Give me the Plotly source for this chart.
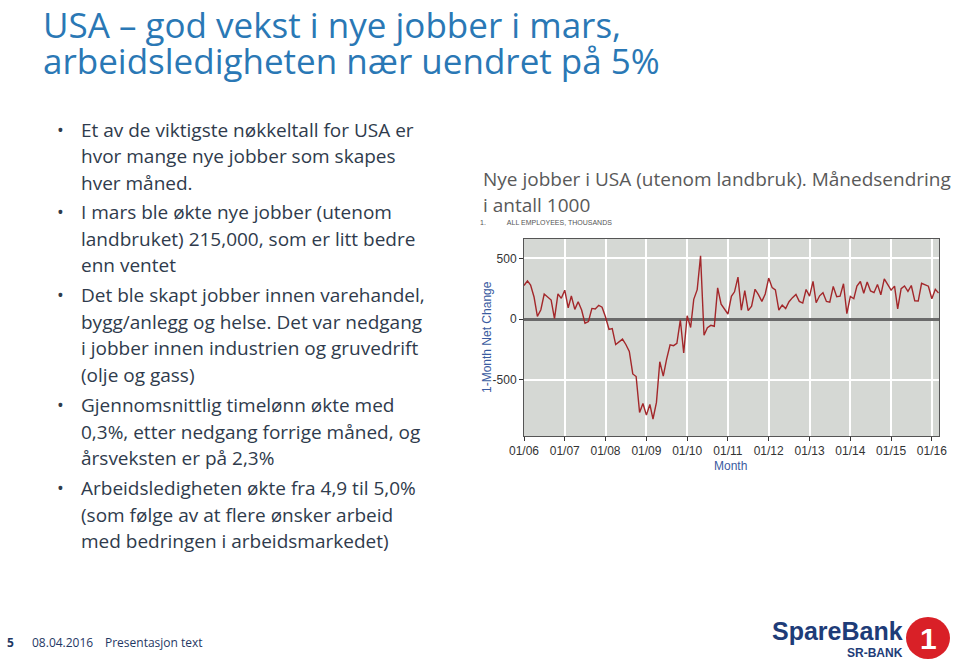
import pandas as pd
import plotly.graph_objects as go

# monthly change in nonfarm payrolls, thousands (Jan 2006 - Mar 2016)
months = pd.date_range("2006-01-01", "2016-03-01", freq="MS")
jobs = [
    277, 315, 280, 182, 23, 77, 207, 184, 157, 4, 208, 171,          # 2006
    238, 93, 190, 80, 143, 75, -34, -20, 88, 84, 114, 98,            # 2007
    17, -84, -78, -210, -185, -165, -209, -266, -452, -473, -769, -695,  # 2008
    -791, -703, -823, -686, -351, -470, -329, -212, -219, -200, -7, -279,  # 2009
    28, -69, 163, 243, 522, -133, -70, -51, -59, 257, 123, 88,       # 2010
    42, 188, 225, 346, 73, 235, 70, 107, 246, 202, 146, 207,         # 2011
    338, 259, 241, 75, 115, 87, 143, 177, 203, 146, 132, 244,        # 2012
    190, 311, 135, 192, 218, 146, 140, 269, 185, 189, 291, 45,       # 2013
    187, 168, 272, 310, 213, 306, 232, 218, 286, 200, 331, 286,      # 2014
    239, 272, 84, 251, 273, 228, 277, 150, 149, 295, 280, 271,       # 2015
    168, 245, 215,                                                   # 2016
]
x_ticks = [f"{y}-01-01" for y in range(2006, 2017)]
x_labels = [f"01/{y % 100:02d}" for y in range(2006, 2017)]
y_ticks = [-500, 0, 500]

bullets = [
    ["Et av de viktigste nøkkeltall for USA er", "hvor mange nye jobber som skapes", "hver måned."],
    ["I mars ble økte nye jobber (utenom", "landbruket) 215,000, som er litt bedre", "enn ventet"],
    ["Det ble skapt jobber innen varehandel,", "bygg/anlegg og helse. Det var nedgang",
     "i jobber innen industrien og gruvedrift", "(olje og gass)"],
    ["Gjennomsnittlig timelønn økte med", "0,3%, etter nedgang forrige måned, og", "årsveksten er på 2,3%"],
    ["Arbeidsledigheten økte fra 4,9 til 5,0%", "(som følge av at flere ønsker arbeid",
     "med bedringen i arbeidsmarkedet)"],
]
bullet_y = [130, 212, 295, 405, 488]

W, H = 960, 664
FONT = "Open Sans"
BLUE = "#2A78B5"
TEXT = "#2F3B4C"


def X(px):
    return px / W


def Y(px):
    return 1 - px / H


fig = go.Figure()
fig.add_trace(go.Scatter(x=months, y=jobs, mode="lines",
                         line=dict(color="#A3272A", width=1.4), hoverinfo="x+y"))

ann = []


def txt(x, y, s, size=19, color=TEXT, **kw):
    ann.append(dict(x=X(x), y=Y(y), xref="paper", yref="paper", text=s, showarrow=False,
                    xanchor=kw.pop("xanchor", "left"), yanchor=kw.pop("yanchor", "middle"),
                    font=dict(family=kw.pop("family", FONT), size=size, color=color), **kw))


# title
txt(42, 24, "USA – god vekst i nye jobber i mars,", size=35, color=BLUE, borderpad=0)
txt(42, 60, "arbeidsledigheten nær uendret på 5%", size=35, color=BLUE, borderpad=0)

# bullets
for y0, lines in zip(bullet_y, bullets):
    txt(55, y0, "•", size=18)
    for i, line in enumerate(lines):
        txt(79, y0 + i * 26.5, line)

# chart heading
txt(481, 179, "Nye jobber i USA (utenom landbruk). Månedsendring", color="#595959")
txt(481, 205, "i antall 1000", color="#595959")
txt(478, 223, "1.           ALL EMPLOYEES, THOUSANDS", size=7, color="#555555", family="Liberation Sans")

# axis titles
txt(730, 466, "Month", size=12, color="#3A5BA0", family="Liberation Sans", xanchor="center")
txt(487, 337, "1-Month Net Change", size=12, color="#3A5BA0", family="Liberation Sans",
    xanchor="center", textangle=-90)

# footer
txt(5, 642, "<b>5</b>", size=12, color="#1F3864")
txt(30, 642, "08.04.2016", size=12, color="#1F3864")
txt(103, 642, "Presentasjon text", size=12, color="#1F3864")

# logo
txt(770, 631, "<b>SpareBank</b>", size=25, color="#1E3C78", family="Liberation Sans")
txt(905, 653, "<b>SR-BANK</b>", size=12, color="#1E3C78", family="Liberation Sans", xanchor="right")
txt(928, 638, "<b>1</b>", size=30, color="white", family="Liberation Sans", xanchor="center")

shapes = [
    dict(type="circle", xref="paper", yref="paper",
         x0=X(906), x1=X(950), y0=Y(659), y1=Y(617),
         fillcolor="#D92027", line=dict(width=0), layer="below"),
]

fig.update_layout(
    width=W, height=H, margin=dict(l=0, r=0, t=0, b=0, autoexpand=False),
    paper_bgcolor="white", plot_bgcolor="#D5D8D4",
    showlegend=False, annotations=ann, shapes=shapes,
    xaxis=dict(domain=[X(524), X(939)], range=["2006-01-01", "2016-03-05"],
               tickvals=x_ticks, ticktext=x_labels, automargin=False,
               tickfont=dict(family="Liberation Sans", size=12, color="#333333"),
               ticks="outside", ticklen=4, tickcolor="#333333",
               showgrid=True, gridcolor="white", gridwidth=1.5,
               showline=True, linecolor="#555555", mirror=True, zeroline=False),
    yaxis=dict(domain=[Y(436), Y(239)], range=[-963, 660], automargin=False,
               tickvals=y_ticks, ticktext=["-500", "0", "500"],
               tickfont=dict(family="Liberation Sans", size=12, color="#333333"),
               ticks="outside", ticklen=4, tickcolor="#333333",
               showgrid=True, gridcolor="white", gridwidth=1.5,
               zeroline=True, zerolinecolor="#6A6A6A", zerolinewidth=2.5,
               showline=True, linecolor="#555555", mirror=True),
)

# drop the page's default body margin so figure pixels line up with the window
fig.write_html("out.html", config={"displayModeBar": False},
               post_script="document.body.style.margin='0';")
